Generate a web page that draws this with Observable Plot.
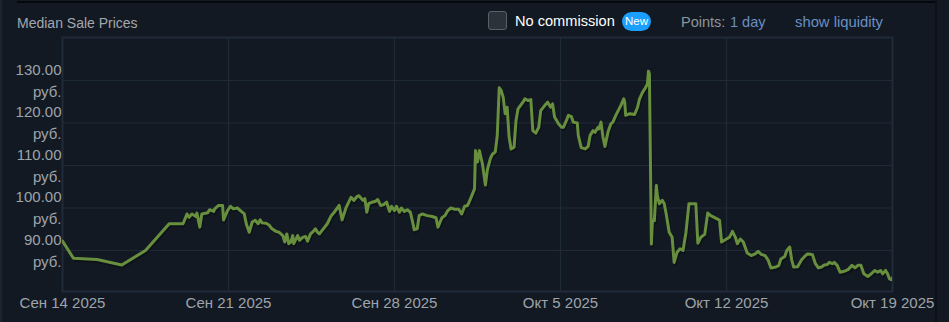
<!DOCTYPE html>
<html>
<head>
<meta charset="utf-8">
<script src="https://cdn.jsdelivr.net/npm/d3@7"></script>
<script src="https://cdn.jsdelivr.net/npm/@observablehq/plot@0.6"></script>
<style>
  html, body { margin: 0; padding: 0; background: #121922; width: 949px; height: 322px; overflow: hidden; }
  body { position: relative; font-family: "Liberation Sans", Arial, sans-serif; }
  #leftstrip { position: absolute; left: 0; top: 0; width: 2px; height: 322px; background: #1b2530; }
  #topline { position: absolute; left: 17px; top: 1px; width: 919px; height: 2px; background: #05080c; }
  #rightline { position: absolute; left: 935px; top: 0; width: 2px; height: 322px; background: #0c1118; }
  .hdr { position: absolute; white-space: nowrap; line-height: 1; }
  #title { left: 17px; top: 16px; font-size: 14px; color: #a2a8ae; }
  #chk { position: absolute; left: 488px; top: 11px; width: 17px; height: 17px; border: 1px solid #5a6068; background: #2c323a; border-radius: 3px; }
  #nocomm { left: 515px; top: 14px; font-size: 14.6px; color: #ffffff; }
  #newb { position: absolute; left: 622px; top: 12px; width: 29px; height: 19px; border-radius: 10px; background: #1a9fff; color: #fff; font-size: 11.5px; line-height: 19px; text-align: center; }
  #points { left: 681px; top: 15px; font-size: 14.5px; color: #8c949c; }
  #oneday { left: 730px; top: 15px; font-size: 14.5px; color: #6b8fc5; }
  #liq { left: 795px; top: 15px; font-size: 14.8px; color: #6b8fc5; }
  #chart { position: absolute; left: 0; top: 30px; }
</style>
</head>
<body>
<div id="leftstrip"></div>
<div id="topline"></div>
<div id="rightline"></div>
<div class="hdr" id="title">Median Sale Prices</div>
<div id="chk"></div>
<div class="hdr" id="nocomm">No commission</div>
<div id="newb">New</div>
<div class="hdr" id="points">Points:</div>
<div class="hdr" id="oneday">1 day</div>
<div class="hdr" id="liq">show liquidity</div>
<div id="chart"></div>
<script>
const times = [
"09-14 00","09-14 11","09-15 11","09-16 12","09-17 12","09-18 12","09-19 02","09-19 06","09-19 08","09-19 11",
"09-19 15","09-19 16","09-19 19","09-19 21","09-20 03","09-20 05","09-20 09","09-20 10","09-20 14","09-20 18",
"09-20 19","09-20 23","09-21 02","09-21 05","09-21 09","09-21 12","09-21 16","09-21 18","09-21 21","09-22 00",
"09-22 03","09-22 06","09-22 08","09-22 10","09-22 14","09-22 17","09-22 20","09-23 00","09-23 03","09-23 07",
"09-23 09","09-23 11","09-23 13","09-23 15","09-23 17","09-23 18","09-23 22","09-24 00","09-24 03","09-24 06",
"09-24 08","09-24 11","09-24 13","09-24 16","09-24 18","09-24 20","09-25 00","09-25 04","09-25 08","09-25 11",
"09-25 16","09-25 19","09-25 23","09-26 04","09-26 07","09-26 10","09-26 12","09-26 16","09-26 18","09-26 20",
"09-26 22","09-27 02","09-27 05","09-27 07","09-27 10","09-27 13","09-27 16","09-27 19","09-27 21","09-28 00",
"09-28 02","09-28 05","09-28 07","09-28 10","09-28 13","09-28 16","09-28 18","09-28 20","09-28 23","09-29 01",
"09-29 04","09-29 09","09-29 14","09-29 18","09-29 20","09-30 00","09-30 03","09-30 06","09-30 09","09-30 13",
"09-30 17","09-30 20","09-30 23","10-01 02","10-01 05","10-01 09","10-01 10","10-01 12","10-01 14","10-01 15",
"10-01 17","10-01 20","10-01 22","10-02 01","10-02 03","10-02 06","10-02 08","10-02 10","10-02 12","10-02 14",
"10-02 16","10-02 18","10-02 20","10-02 22","10-03 01","10-03 03","10-03 05","10-03 10","10-03 12","10-03 15",
"10-03 18","10-03 20","10-03 23","10-04 02","10-04 04","10-04 08","10-04 11","10-04 14","10-04 16","10-04 18",
"10-04 22","10-05 01","10-05 03","10-05 06","10-05 08","10-05 11","10-05 13","10-05 17","10-05 18","10-05 21",
"10-06 01","10-06 04","10-06 06","10-06 09","10-06 11","10-06 14","10-06 15","10-06 17","10-06 19","10-06 21",
"10-07 00","10-07 03","10-07 05","10-07 08","10-07 13","10-07 16","10-07 17","10-07 18","10-07 22","10-08 03",
"10-08 06","10-08 08","10-08 11","10-08 14","10-08 16","10-08 17","10-08 18","10-08 20","10-08 21","10-08 23",
"10-09 01","10-09 02","10-09 04","10-09 07","10-09 09","10-09 11","10-09 14","10-09 17","10-09 19","10-09 22",
"10-10 01","10-10 04","10-10 07","10-10 10","10-10 14","10-10 17","10-10 19","10-10 22","10-11 02","10-11 05",
"10-11 08","10-11 14","10-11 17","10-11 19","10-12 00","10-12 03","10-12 06","10-12 09","10-12 11","10-12 14",
"10-12 17","10-12 21","10-13 01","10-13 05","10-13 08","10-13 11","10-13 15","10-13 18","10-13 21","10-14 02",
"10-14 05","10-14 07","10-14 11","10-14 13","10-14 16","10-14 18","10-14 20","10-15 00","10-15 04","10-15 08",
"10-15 10","10-15 13","10-15 15","10-15 18","10-15 21","10-16 00","10-16 03","10-16 06","10-16 08","10-16 11",
"10-16 13","10-16 16","10-16 19","10-16 23","10-17 03","10-17 07","10-17 10","10-17 13","10-17 16","10-17 19",
"10-17 23","10-18 02","10-18 06","10-18 09","10-18 12","10-18 14","10-18 17","10-18 19","10-18 21","10-18 23",
"10-19 00"
];
const prices = [
92.2,88.2,87.9,86.6,90.0,96.3,96.3,98.6,97.8,98.6,
98.0,98.8,95.5,98.6,98.9,99.6,99.2,99.8,100.6,100.6,
97.2,99.4,100.4,99.8,100.0,99.4,98.6,96.3,94.3,96.7,
97.1,96.3,97.2,96.5,96.4,96.0,95.1,94.5,94.3,93.5,
92.0,93.9,91.6,92.0,93.5,91.6,93.5,92.4,93.1,93.3,
92.2,93.9,94.3,95.1,94.3,93.9,95.1,96.3,98.2,99.0,
100.6,97.2,100.1,102.5,101.8,102.7,102.9,101.8,102.2,99.0,
101.1,101.4,101.6,102.0,100.6,100.8,101.4,99.2,100.4,99.4,
100.4,99.0,100.0,99.2,99.6,99.0,97.1,94.9,95.1,98.2,
98.6,98.2,98.0,97.7,95.5,97.7,98.2,99.4,100.0,99.7,
99.7,98.6,100.4,100.6,102.2,104.5,113.5,110.8,113.5,112.4,
110.4,105.4,109.0,111.6,112.6,113.2,117.0,128.3,127.6,126.1,
122.2,123.7,116.7,113.9,114.3,120.6,123.3,124.9,125.7,125.3,
125.5,118.2,117.6,119.0,122.9,124.1,124.9,123.7,124.5,121.4,
119.8,119.0,119.0,120.6,121.8,121.5,120.2,120.0,117.1,114.2,
113.9,114.5,117.1,118.2,117.8,119.0,118.6,120.2,116.7,114.5,
117.8,119.8,120.2,121.8,124.1,125.7,124.9,121.8,122.2,122.0,
123.7,125.7,127.2,128.3,129.2,132.2,131.6,91.5,97.1,97.0,
105.3,102.9,101.0,101.8,101.0,98.6,94.3,93.1,87.2,89.6,
90.4,90.0,94.3,101.0,101.0,101.0,91.7,93.1,93.8,98.8,
98.2,97.5,97.1,92.0,92.7,93.1,94.5,93.1,91.6,92.7,
92.0,89.4,88.8,89.2,89.8,89.1,88.8,87.8,85.9,86.1,
86.5,88.0,88.6,90.0,90.8,87.8,86.1,86.2,87.8,88.8,
89.2,89.1,89.0,86.9,85.9,86.1,86.6,86.7,87.2,86.9,
87.2,86.5,84.9,85.1,85.5,86.5,85.9,86.5,86.5,84.5,
83.9,84.4,85.3,84.9,85.3,84.5,85.3,84.5,83.3,83.1,
83.6
];
const xTickDates = ["2025-09-14","2025-09-21","2025-09-28","2025-10-05","2025-10-12","2025-10-19"];
const xTickLabels = ["Сен 14 2025","Сен 21 2025","Сен 28 2025","Окт 5 2025","Окт 12 2025","Окт 19 2025"];
const yTicks = [90, 100, 110, 120, 130];
const yTickLabels = ["90.00\nруб.","100.00\nруб.","110.00\nруб.","120.00\nруб.","130.00\nруб."];

const parseT = d3.utcParse("%Y-%m-%d %H");
const data = times.map((t, i) => ({date: parseT("2025-" + t), price: prices[i]}));
const xTicks = xTickDates.map(d => d3.utcParse("%Y-%m-%d")(d));
const xLabel = new Map(xTicks.map((d, i) => [+d, xTickLabels[i]]));
const yLabel = new Map(yTicks.map((v, i) => [v, yTickLabels[i]]));

const gridColor = "#1f2a37";
const chart = Plot.plot({
  width: 949,
  height: 292,
  marginTop: 7,
  marginBottom: 31,
  marginLeft: 62,
  marginRight: 57,
  style: {background: "transparent", fontFamily: "'Liberation Sans', Arial, sans-serif", color: "#9ea4ab", overflow: "visible"},
  x: {type: "utc", domain: [xTicks[0], xTicks[xTicks.length - 1]]},
  y: {domain: [80.35, 140.12]},
  marks: [
    Plot.gridX(xTicks, {stroke: gridColor, strokeOpacity: 1, strokeWidth: 1.2}),
    Plot.gridY(yTicks, {stroke: gridColor, strokeOpacity: 1, strokeWidth: 1.2}),
    Plot.frame({stroke: "#1f2b39", strokeWidth: 2}),
    Plot.axisX(xTicks, {tickSize: 0, tickPadding: 6, fontSize: 15, fill: "#9ea4ab", tickFormat: d => xLabel.get(+d), label: null}),
    Plot.axisY(yTicks, {tickSize: 0, tickPadding: 1, dy: -2, fontSize: 15, lineHeight: 1.47, fill: "#9ea4ab", tickFormat: v => yLabel.get(v), label: null}),
    Plot.line(data, {x: "date", y: "price", stroke: "#000", strokeOpacity: 0.28, strokeWidth: 3, dx: 1, dy: 2, clip: true}),
    Plot.line(data, {x: "date", y: "price", stroke: "#688f3e", strokeWidth: 3, strokeLinejoin: "round", clip: true})
  ]
});
document.getElementById("chart").appendChild(chart);
</script>
</body>
</html>
